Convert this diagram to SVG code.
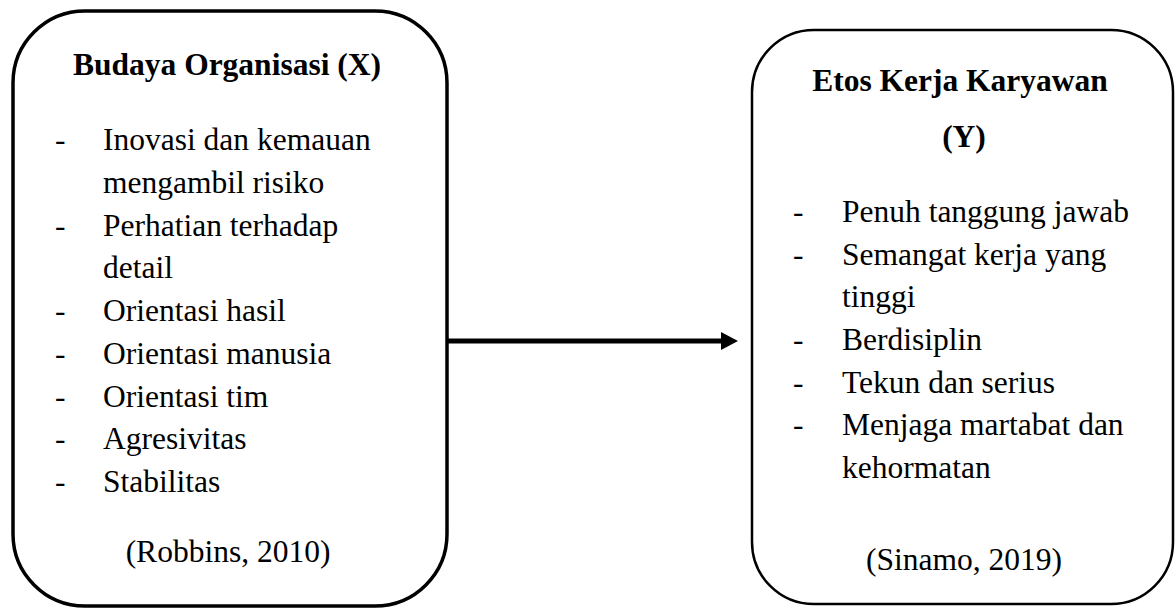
<svg xmlns="http://www.w3.org/2000/svg" width="1176" height="608" viewBox="0 0 1176 608">
<style>
.box{fill:#fff;stroke:#000}
.t{font-family:"Liberation Serif","Times New Roman",serif;font-size:31.5px;fill:#000}
.b{font-weight:bold}
.m{text-anchor:middle}
</style>
<defs>
<marker id="ah" markerUnits="userSpaceOnUse" markerWidth="20" markerHeight="20" refX="0" refY="9" orient="auto">
<polygon points="0,0 17,9 0,18" fill="#000"/>
</marker>
</defs>
<rect width="1176" height="608" fill="#fff"/>
<g id="connectors">
<line x1="443" y1="341" x2="721" y2="341" stroke="#000" stroke-width="5" marker-end="url(#ah)"/>
</g>
<g id="nodeX">
<rect class="box" x="13" y="11" width="434" height="595" rx="72" ry="72" stroke-width="3.5"/>
<text class="t b m" x="227" y="75">Budaya Organisasi (X)</text>
<text class="t" x="55" y="150">-</text><text class="t" x="103" y="150">Inovasi dan kemauan</text>
<text class="t" x="103" y="192.75">mengambil risiko</text>
<text class="t" x="55" y="235.5">-</text><text class="t" x="103" y="235.5">Perhatian terhadap</text>
<text class="t" x="103" y="278.25">detail</text>
<text class="t" x="55" y="321">-</text><text class="t" x="103" y="321">Orientasi hasil</text>
<text class="t" x="55" y="363.75">-</text><text class="t" x="103" y="363.75">Orientasi manusia</text>
<text class="t" x="55" y="406.5">-</text><text class="t" x="103" y="406.5">Orientasi tim</text>
<text class="t" x="55" y="449.25">-</text><text class="t" x="103" y="449.25">Agresivitas</text>
<text class="t" x="55" y="492">-</text><text class="t" x="103" y="492">Stabilitas</text>
<text class="t m" x="228" y="562">(Robbins, 2010)</text>
</g>
<g id="nodeY">
<rect class="box" x="752" y="30" width="421" height="574" rx="62" ry="62" stroke-width="2.5"/>
<text class="t b m" x="960" y="91">Etos Kerja Karyawan</text>
<text class="t b m" x="964" y="147">(Y)</text>
<text class="t" x="793" y="222">-</text><text class="t" x="842" y="222">Penuh tanggung jawab</text>
<text class="t" x="793" y="264.5">-</text><text class="t" x="842" y="264.5">Semangat kerja yang</text>
<text class="t" x="842" y="307">tinggi</text>
<text class="t" x="793" y="350">-</text><text class="t" x="842" y="350">Berdisiplin</text>
<text class="t" x="793" y="392.5">-</text><text class="t" x="842" y="392.5">Tekun dan serius</text>
<text class="t" x="793" y="435">-</text><text class="t" x="842" y="435">Menjaga martabat dan</text>
<text class="t" x="842" y="478">kehormatan</text>
<text class="t m" x="964" y="570">(Sinamo, 2019)</text>
</g>
</svg>
